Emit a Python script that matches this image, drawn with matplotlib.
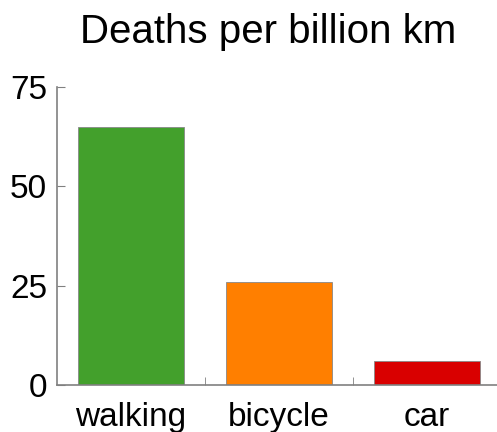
import numpy as np
import matplotlib.pyplot as plt

plt.rcParams["font.family"] = ["Liberation Sans", "DejaVu Sans"]

modes = ["walking", "bicycle", "car"]
deaths = [65, 26, 6]
colors = ["#43a02c", "#ff7f00", "#d90000"]
yticks = [0, 25, 50, 75]

fig = plt.figure(figsize=(4.97, 4.32), dpi=100)
ax = fig.add_axes([57 / 497, 47 / 432, 444 / 497, 298 / 432])

x = np.arange(len(modes))
ax.bar(x, deaths, width=0.72, color=colors, edgecolor="#888888", linewidth=0.6)

ax.set_xlim(-0.5, 2.5)
ax.set_ylim(0, 75)
ax.set_yticks(yticks)
ax.set_xticks(x)
ax.set_xticklabels(modes)
ax.set_xticks([0.5, 1.5], minor=True)

for side in ["top", "right"]:
    ax.spines[side].set_visible(False)
for side in ["left", "bottom"]:
    ax.spines[side].set_color("#808080")
    ax.spines[side].set_linewidth(1.2)

ax.tick_params(axis="y", direction="in", length=6, color="#808080", labelsize=24, pad=7)
ax.tick_params(axis="x", which="major", length=0, labelsize=24, pad=12)
ax.tick_params(axis="x", which="minor", direction="in", length=6, color="#808080")

fig.text(268 / 497, 1 - 32 / 432, "Deaths per billion km", fontsize=29,
         ha="center", va="center")

plt.savefig("out.png", dpi=100)
